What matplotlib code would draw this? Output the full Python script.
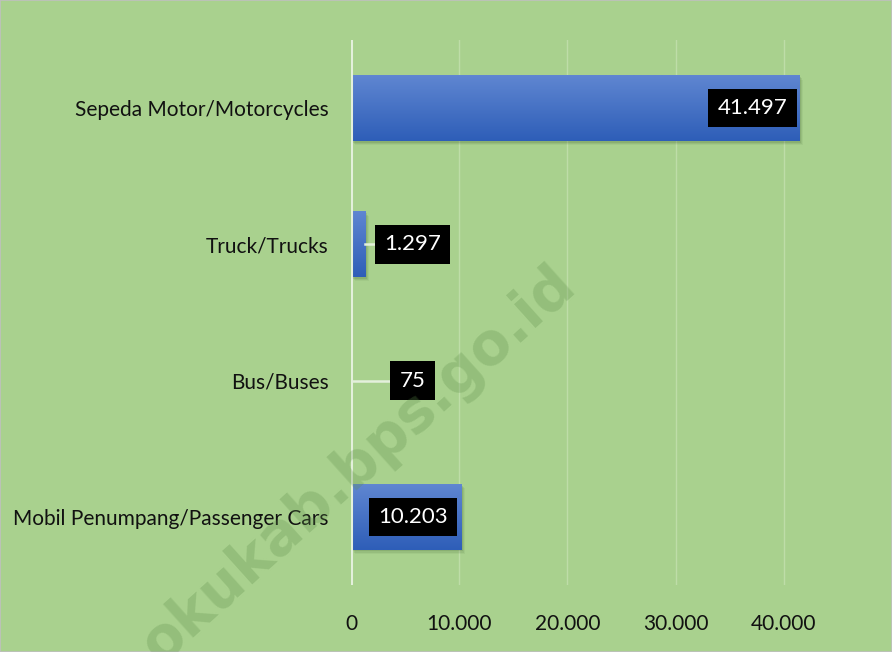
import numpy as np
import matplotlib
matplotlib.use("Agg")
import matplotlib.pyplot as plt
import matplotlib.transforms as mtransforms
from matplotlib.patches import Rectangle

# Vehicle counts (bottom to top as drawn)
categories = ["Mobil Penumpang/Passenger Cars", "Bus/Buses", "Truck/Trucks",
              "Sepeda Motor/Motorcycles"]
values = [10203, 75, 1297, 41497]
value_labels = ["10.203", "75", "1.297", "41.497"]
xticks = [0, 10000, 20000, 30000, 40000]
xtick_labels = ["0", "10.000", "20.000", "30.000", "40.000"]

bg = "#A9D18E"
plt.rcParams["font.family"] = ["Lato", "DejaVu Sans"]

fig = plt.figure(figsize=(8.92, 6.52), dpi=100, facecolor=bg)
ax = fig.add_axes([351 / 892, 67 / 652, 529 / 892, 545 / 652])
ax.set_facecolor(bg)

xmax = 48900
bar_h = 0.48
ypos = np.arange(len(categories))

# grid
for t in xticks[1:]:
    ax.axvline(t, color="#BEDDA8", lw=1.0, zorder=0)

# gradient for bars (top lighter, bottom darker)
grad = np.linspace(0, 1, 64).reshape(-1, 1)
top_c = np.array([0x5F, 0x86, 0xD1]) / 255
bot_c = np.array([0x2E, 0x5E, 0xB8]) / 255
img = top_c * (1 - grad[..., None]) + bot_c * grad[..., None]
img = img.reshape(64, 1, 3)

for y, v in zip(ypos, values):
    # soft drop shadow
    for k, a in zip([7, 5, 3], [0.06, 0.09, 0.12]):
        off = mtransforms.offset_copy(ax.transData, fig=fig, x=k * 0.5, y=-k * 0.6, units="dots")
        ax.add_patch(Rectangle((0, y - bar_h / 2), v, bar_h, transform=off,
                               facecolor="#2d4a1e", edgecolor="none", alpha=a, zorder=1))
    ax.imshow(img, extent=[0, v, y - bar_h / 2, y + bar_h / 2], aspect="auto",
              origin="upper", zorder=2, interpolation="bilinear")

# zero axis line
ax.axvline(0, color="#E4F0DC", lw=2.2, zorder=3)

# data labels
for y, v, lab in zip(ypos, values, value_labels):
    if v > 20000:
        lx = v - 4400
    else:
        lx = 5700
        if v < lx - 2000:
            ax.plot([v, lx - 1500], [y, y], color="#E4F0DC", lw=1.8, zorder=3)
    ax.text(lx, y, lab, ha="center", va="center", color="white", fontsize=16,
            zorder=5, bbox=dict(boxstyle="square,pad=0.42", facecolor="black",
                                edgecolor="none"))

ax.set_xlim(0, xmax)
ax.set_ylim(-0.5, 3.5)
ax.set_xticks(xticks)
ax.set_xticklabels(xtick_labels, fontsize=15, color="#111111")
ax.set_yticks(ypos)
ax.set_yticklabels(categories, fontsize=15, color="#111111")
ax.tick_params(axis="x", length=0, pad=21)
ax.tick_params(axis="y", length=0, pad=16)
for s in ax.spines.values():
    s.set_visible(False)

# watermark
fig.text(0.402, 0.288, "okukab.bps.go.id", rotation=42, fontsize=41.5, fontweight="bold",
         family="DejaVu Sans", color="#5E8F4A", alpha=0.28, ha="center", va="center",
         zorder=10)

# thin outer border
fig.patches.append(Rectangle((0, 0), 1, 1, transform=fig.transFigure, fill=False,
                             edgecolor="#BFBFBF", lw=1.2))

fig.savefig("out.png", dpi=100, facecolor=bg)
